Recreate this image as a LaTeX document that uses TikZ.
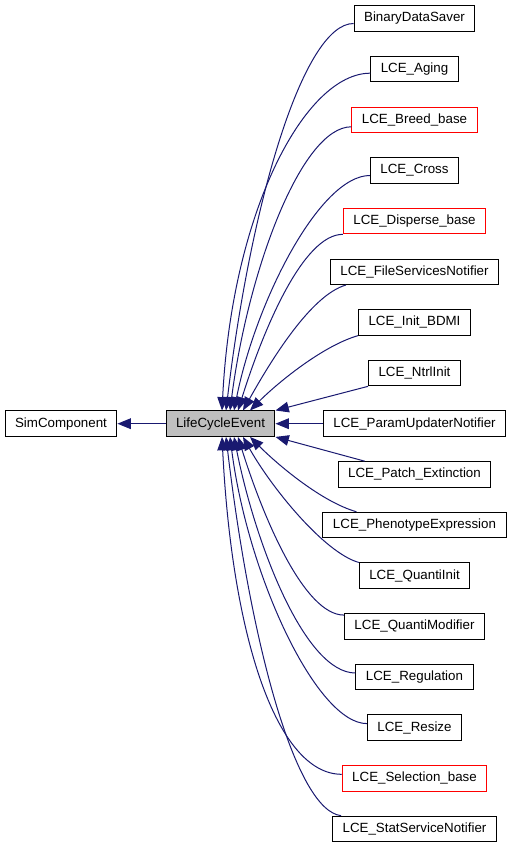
\documentclass[tikz,border=0pt]{standalone}
\usepackage{fontspec}
\setmainfont{Liberation Sans}
\usetikzlibrary{arrows.meta, calc}
\definecolor{edgeblue}{HTML}{191970}
\definecolor{lcegray}{HTML}{BFBFBF}

\begin{document}
\begin{tikzpicture}[x=0.75pt, y=-0.75pt,
  every node/.style={font=\fontsize{10}{12}\selectfont},
  cls/.style={draw=black, line width=0.75pt, minimum height=19.1pt, inner xsep=7.5pt, inner ysep=0pt},
  clsred/.style={cls, draw=red},
  clscur/.style={cls, fill=lcegray},
  inh/.style={draw=edgeblue, line width=0.75pt, -{Triangle[length=10pt, width=8pt]}}]
\useasboundingbox (0,0) rectangle (512,848);
\node[cls] (sim) at (61,423.7) {SimComponent};
\node[clscur] (lce) at (220.5,423.7) {LifeCycleEvent};
\node[cls] (saver) at (414.5,18.5) {BinaryDataSaver};
\node[cls] (aging) at (414.5,69.2) {LCE\_Aging};
\node[clsred] (breed) at (414.5,119.8) {LCE\_Breed\_base};
\node[cls] (cross) at (414.5,170.5) {LCE\_Cross};
\node[clsred] (disperse) at (414.5,221.1) {LCE\_Disperse\_base};
\node[cls] (filesrv) at (414.5,271.8) {LCE\_FileServicesNotifier};
\node[cls] (initbdmi) at (414.5,322.4) {LCE\_Init\_BDMI};
\node[cls] (ntrl) at (414.5,373.1) {LCE\_NtrlInit};
\node[cls] (param) at (414.5,423.7) {LCE\_ParamUpdaterNotifier};
\node[cls] (patch) at (414.5,474.4) {LCE\_Patch\_Extinction};
\node[cls] (pheno) at (414.5,525) {LCE\_PhenotypeExpression};
\node[cls] (qinit) at (414.5,575.7) {LCE\_QuantiInit};
\node[cls] (qmod) at (414.5,626.3) {LCE\_QuantiModifier};
\node[cls] (regul) at (414.5,677) {LCE\_Regulation};
\node[cls] (resize) at (414.5,727.6) {LCE\_Resize};
\node[clsred] (select) at (414.5,778.3) {LCE\_Selection\_base};
\node[cls] (statsrv) at (414.5,828.9) {LCE\_StatServiceNotifier};

\draw[inh] (lce.west) -- (sim.east);
\draw[inh] ($(saver.west)+(0,5)$) .. controls +(-50,0) and +(25,-210) .. ($(lce.north)+(5.5,0)$);
\draw[inh] ($(aging.west)+(0,4)$) .. controls +(-65,0) and +(10,-200) .. ($(lce.north)+(1.5,0)$);
\draw[inh] ($(breed.west)+(0,7)$) .. controls +(-50,0) and +(18,-140) .. ($(lce.north)+(9.5,0)$);
\draw[inh] ($(cross.west)+(0,5)$) .. controls +(-50,0) and +(22,-110) .. ($(lce.north)+(13.5,0)$);
\draw[inh] (disperse.south west) .. controls +(-40,0) and +(25,-80) .. ($(lce.north)+(17.5,0)$);
\draw[inh] ($(filesrv.south west)+(16,0)$) .. controls +(-35,10) and +(28,-50) .. ($(lce.north)+(22.5,0)$);
\draw[inh] (initbdmi.south west) .. controls +(-35,10) and +(28,-28) .. ($(lce.north)+(29.5,0)$);
\draw[inh] (ntrl.south west) -- (lce.north east);
\draw[inh] (param.west) -- (lce.east);
\draw[inh] ($(patch.north west)+(27,0)$) -- (lce.south east);
\draw[inh] ($(pheno.north west)+(34,0)$) .. controls +(-35,-10) and +(28,28) .. ($(lce.south)+(29.5,0)$);
\draw[inh] (qinit.north west) .. controls +(-35,-10) and +(28,50) .. ($(lce.south)+(22.5,0)$);
\draw[inh] ($(qmod.north west)+(0,2)$) .. controls +(-40,0) and +(25,80) .. ($(lce.south)+(17.5,0)$);
\draw[inh] ($(regul.west)+(0,-4)$) .. controls +(-50,0) and +(22,110) .. ($(lce.south)+(13.5,0)$);
\draw[inh] ($(resize.west)+(0,-4)$) .. controls +(-50,0) and +(18,140) .. ($(lce.south)+(9.5,0)$);
\draw[inh] ($(select.west)+(0,-4)$) .. controls +(-65,0) and +(10,200) .. ($(lce.south)+(1.5,0)$);
\draw[inh] ($(statsrv.north west)+(9,0)$) .. controls +(-45,-5) and +(25,210) .. ($(lce.south)+(5.5,0)$);
\end{tikzpicture}
\end{document}
